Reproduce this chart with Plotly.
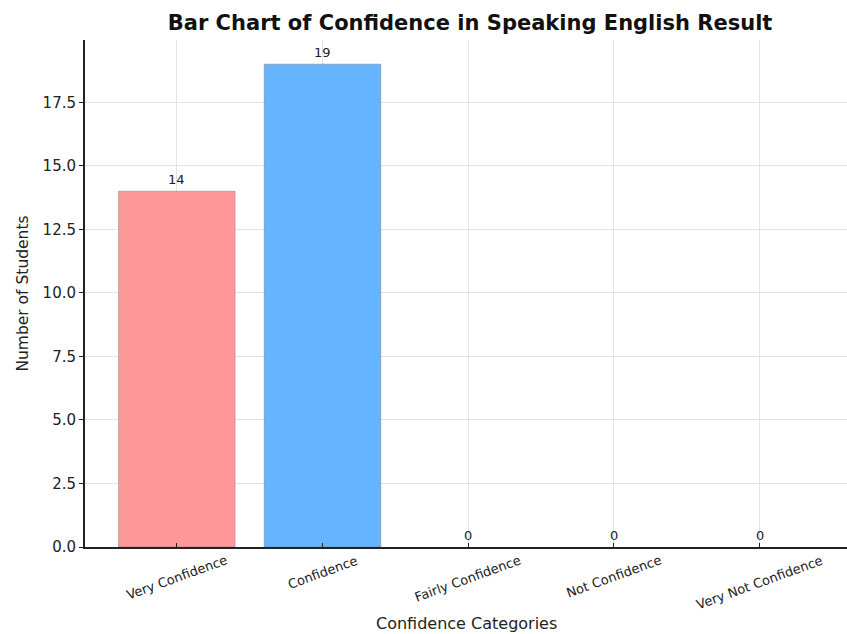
import plotly.graph_objects as go

categories = ["Very Confidence", "Confidence", "Fairly Confidence", "Not Confidence", "Very Not Confidence"]
counts = [14, 19, 0, 0, 0]
bar_colors = ["#ff9999", "#66b3ff", "#99ff99", "#ffcc99", "#c2c2f0"]
y_ticks = [0, 2.5, 5, 7.5, 10, 12.5, 15, 17.5]

fig = go.Figure()
fig.add_trace(go.Bar(
    x=list(range(len(categories))), y=counts,
    width=0.8,
    marker=dict(color=bar_colors,
                line=dict(color="rgba(120,120,120,0.45)",
                          width=[1 if v > 0 else 0 for v in counts])),
    showlegend=False,
))
for i, v in enumerate(counts):
    fig.add_annotation(x=i, y=v, text=str(v), showarrow=False, yanchor="bottom", yshift=2,
                       font=dict(family="DejaVu Sans", size=13, color="#222"))
for i, c in enumerate(categories):
    fig.add_annotation(x=i, y=0, yref="y", text=c, showarrow=False, textangle=-20,
                       xanchor="center", yanchor="top", yshift=-3,
                       font=dict(family="DejaVu Sans", size=13, color="#222"))

fig.update_layout(
    width=847, height=634,
    margin=dict(l=85, r=0, t=40, b=87),
    plot_bgcolor="white", paper_bgcolor="white",
    font=dict(family="DejaVu Sans", color="#222"),
    title=dict(text="<b>Bar Chart of Confidence in Speaking English Result</b>",
               x=0.555, xanchor="center", y=0.965, yanchor="middle",
               font=dict(size=21, color="#111")),
    bargap=0.2,
)
fig.update_xaxes(
    range=[-0.63, 4.6],
    tickmode="array", tickvals=list(range(len(categories))),
    showticklabels=False,
    showline=True, linecolor="#222", linewidth=2,
    ticks="inside", ticklen=4, tickcolor="#222",
    showgrid=True, gridcolor="#e3e3e3", gridwidth=1,
    zeroline=False,
)
fig.add_annotation(x=0.5, xref="paper", y=0, yref="paper", yshift=-76,
                   text="Confidence Categories", showarrow=False,
                   xanchor="center", yanchor="middle",
                   font=dict(family="DejaVu Sans", size=16, color="#222"))
fig.update_yaxes(
    range=[0, 19.95],
    tickmode="array", tickvals=y_ticks, ticktext=[f"{t:.1f}" for t in y_ticks],
    tickfont=dict(size=15),
    showline=True, linecolor="#222", linewidth=2,
    ticks="outside", ticklen=4, tickcolor="#222",
    showgrid=True, gridcolor="#e3e3e3", gridwidth=1,
    title=dict(text="Number of Students", font=dict(size=15.5), standoff=10),
    zeroline=False,
)
fig.write_html("out.html")
